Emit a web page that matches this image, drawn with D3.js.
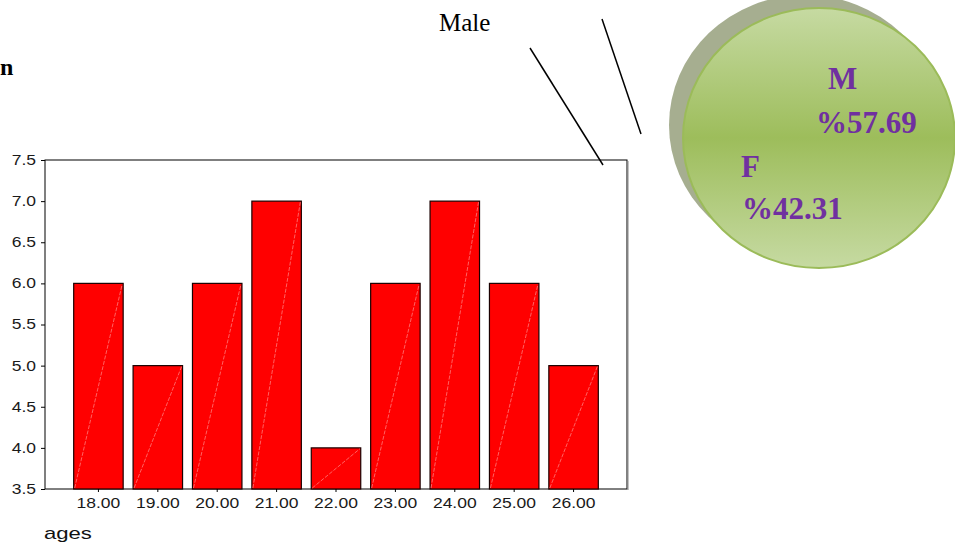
<!DOCTYPE html>
<html>
<head>
<meta charset="utf-8">
<script src="https://cdn.jsdelivr.net/npm/d3@7"></script>
<style>
  html, body { margin: 0; padding: 0; background: #fff; }
  svg { display: block; }
</style>
</head>
<body>
<svg id="chart" width="955" height="544"></svg>
<script>
// Age distribution (bars) and gender split (bubble)
const ages = ["18.00", "19.00", "20.00", "21.00", "22.00", "23.00", "24.00", "25.00", "26.00"];
const counts = [6, 5, 6, 7, 4, 6, 7, 6, 5];
const yTicks = [3.5, 4.0, 4.5, 5.0, 5.5, 6.0, 6.5, 7.0, 7.5];
const genderLabels = ["M", "F"];
const genderShares = ["%57.69", "%42.31"];

const svg = d3.select("#chart");
const plot = { left: 45, right: 627, top: 160, bottom: 489 };

const x = d3.scaleBand()
  .domain(ages)
  .range([plot.left, plot.right])
  .paddingInner(0.167)
  .paddingOuter(0.483);

const y = d3.scaleLinear()
  .domain([3.5, 7.5])
  .range([plot.bottom, plot.top]);

// widen the sans labels a little, like the stretched output of the stats package
function stretch(sel, k) {
  sel.each(function () {
    const w = this.getComputedTextLength();
    d3.select(this).attr("textLength", w * k).attr("lengthAdjust", "spacingAndGlyphs");
  });
}

// plot frame
svg.append("rect")
  .attr("x", plot.left).attr("y", plot.top)
  .attr("width", plot.right - plot.left).attr("height", plot.bottom - plot.top)
  .attr("fill", "none").attr("stroke", "#000").attr("stroke-width", 1);
svg.append("line")
  .attr("x1", plot.right + 1).attr("x2", plot.right + 1)
  .attr("y1", plot.top + 1).attr("y2", plot.bottom + 1)
  .attr("stroke", "#888").attr("stroke-width", 1);

// bars
const bars = svg.append("g");
bars.selectAll("rect")
  .data(ages)
  .join("rect")
  .attr("x", d => x(d))
  .attr("y", (d, i) => y(counts[i]))
  .attr("width", x.bandwidth())
  .attr("height", (d, i) => y(3.5) - y(counts[i]))
  .attr("fill", "#ff0000")
  .attr("stroke", "#1a0000")
  .attr("stroke-width", 1.2);

// faint diagonal hatch line in each bar
bars.selectAll("line")
  .data(ages)
  .join("line")
  .attr("x1", d => x(d) + 1)
  .attr("y1", y(3.5) - 1)
  .attr("x2", d => x(d) + x.bandwidth() - 1)
  .attr("y2", (d, i) => y(counts[i]) + 1)
  .attr("stroke", "#ff8c8c")
  .attr("stroke-width", 0.7)
  .attr("stroke-dasharray", "4,1.5");

// axes
const yAxis = svg.append("g")
  .attr("transform", `translate(${plot.left},0)`)
  .call(d3.axisLeft(y).tickValues(yTicks).tickFormat(d3.format(".1f")).tickSize(4).tickPadding(5));
const xAxis = svg.append("g")
  .attr("transform", `translate(0,${plot.bottom})`)
  .call(d3.axisBottom(x).tickSize(3).tickPadding(6));

[yAxis, xAxis].forEach(g => {
  g.select(".domain").remove();
  g.selectAll("line").attr("stroke", "#000");
  g.selectAll("text")
    .attr("font-family", "'Liberation Sans', Arial, sans-serif")
    .attr("font-size", 14)
    .attr("fill", "#1a1a1a");
});
stretch(yAxis.selectAll("text"), 1.25);
stretch(xAxis.selectAll("text"), 1.25);

// axis title
svg.append("text")
  .attr("x", 44).attr("y", 539)
  .attr("font-family", "'Liberation Sans', Arial, sans-serif")
  .attr("font-size", 17)
  .attr("fill", "#111")
  .text("ages")
  .call(stretch, 1.3);

// fragment of a heading at the left edge
svg.append("text")
  .attr("x", 0).attr("y", 75)
  .attr("font-family", "'Liberation Serif', 'Times New Roman', serif")
  .attr("font-weight", "bold")
  .attr("font-size", 24)
  .attr("fill", "#000")
  .text("n");

// callout label and pointer lines
svg.append("text")
  .attr("x", 439).attr("y", 31)
  .attr("font-family", "'Liberation Serif', 'Times New Roman', serif")
  .attr("font-size", 25)
  .attr("fill", "#000")
  .text("Male");
svg.append("line")
  .attr("x1", 530).attr("y1", 48).attr("x2", 603).attr("y2", 165)
  .attr("stroke", "#000").attr("stroke-width", 1.5);
svg.append("line")
  .attr("x1", 602).attr("y1", 19).attr("x2", 641).attr("y2", 134)
  .attr("stroke", "#000").attr("stroke-width", 1.5);

// gender bubble
const defs = svg.append("defs");
const grad = defs.append("linearGradient")
  .attr("id", "bubbleFill")
  .attr("x1", 0).attr("y1", 0).attr("x2", 0).attr("y2", 1);
grad.append("stop").attr("offset", "0%").attr("stop-color", "#c6daa2");
grad.append("stop").attr("offset", "50%").attr("stop-color", "#9dbd5b");
grad.append("stop").attr("offset", "100%").attr("stop-color", "#c6daa2");

const bubble = { cx: 819, cy: 138, rx: 136, ry: 130 };
svg.append("ellipse")
  .attr("cx", bubble.cx - 14).attr("cy", bubble.cy - 13)
  .attr("rx", bubble.rx).attr("ry", bubble.ry)
  .attr("fill", "#a6ae90");
svg.append("ellipse")
  .attr("cx", bubble.cx).attr("cy", bubble.cy)
  .attr("rx", bubble.rx).attr("ry", bubble.ry)
  .attr("fill", "url(#bubbleFill)")
  .attr("stroke", "#9bbb59")
  .attr("stroke-width", 2);

const labelPos = [
  { label: [828, 89], share: [816, 133] },
  { label: [741, 177], share: [742, 219] }
];
const bubbleText = svg.append("g")
  .attr("font-family", "'Liberation Serif', 'Times New Roman', serif")
  .attr("font-weight", "bold")
  .attr("font-size", 31)
  .attr("fill", "#7030a0");
genderLabels.forEach((g, i) => {
  bubbleText.append("text").attr("x", labelPos[i].label[0]).attr("y", labelPos[i].label[1]).text(g);
  bubbleText.append("text").attr("x", labelPos[i].share[0]).attr("y", labelPos[i].share[1]).text(genderShares[i]);
});
</script>
</body>
</html>
